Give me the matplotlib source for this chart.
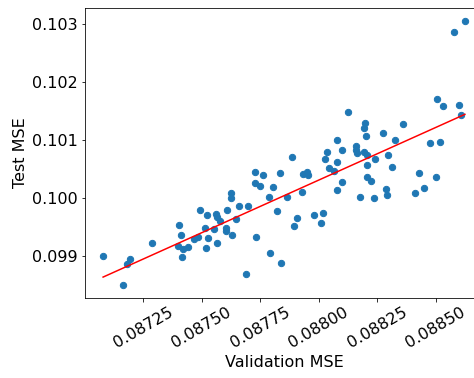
import numpy as np
import matplotlib
matplotlib.use("Agg")
from matplotlib import pyplot as plt

# validation / test MSE pairs
val_mse = [0.087079, 0.087165, 0.087183, 0.087196, 0.087290, 0.087403, 0.087414, 0.087398,
           0.087420, 0.087440, 0.087417, 0.087468, 0.087483, 0.087494, 0.087521, 0.087513,
           0.087526, 0.087519, 0.087563, 0.087564, 0.087580, 0.087552, 0.087566, 0.087603,
           0.087604, 0.087608, 0.087626, 0.087626, 0.087631, 0.087647, 0.087658, 0.087699,
           0.087690, 0.087727, 0.087726, 0.087734, 0.087751, 0.087764, 0.087787, 0.087803,
           0.087793, 0.087823, 0.087835, 0.087840, 0.087863, 0.087887, 0.087906, 0.087894,
           0.087934, 0.087950, 0.087954, 0.087931, 0.087981, 0.088017, 0.088012, 0.088029,
           0.088035, 0.088044, 0.088077, 0.088080, 0.088066, 0.088077, 0.088098, 0.088100,
           0.088124, 0.088197, 0.088194, 0.088202, 0.088159, 0.088160, 0.088162, 0.088193,
           0.088207, 0.088240, 0.088208, 0.088205, 0.088224, 0.088177, 0.088237, 0.088286,
           0.088290, 0.088275, 0.088297, 0.088314, 0.088328, 0.088362, 0.088427, 0.088410,
           0.088450, 0.088500, 0.088474, 0.088519, 0.088504, 0.088532, 0.088599, 0.088610,
           0.088579, 0.088625]
test_mse = [0.098993, 0.098499, 0.098866, 0.098947, 0.099213, 0.099532, 0.099363, 0.099176,
            0.099114, 0.099158, 0.098976, 0.099291, 0.099320, 0.099795, 0.099709, 0.099485,
            0.099308, 0.099141, 0.099726, 0.099661, 0.099606, 0.099463, 0.099225, 0.099477,
            0.099434, 0.099790, 0.100086, 0.099991, 0.099365, 0.099626, 0.099864, 0.099864,
            0.098683, 0.100449, 0.100251, 0.099320, 0.100207, 0.100389, 0.100009, 0.100186,
            0.099053, 0.099768, 0.100418, 0.098869, 0.100014, 0.100702, 0.099647, 0.099520,
            0.100406, 0.100435, 0.100396, 0.100091, 0.099704, 0.099744, 0.099570, 0.100663,
            0.100788, 0.100520, 0.100998, 0.100611, 0.100458, 0.100138, 0.100819, 0.100277,
            0.101477, 0.101284, 0.101201, 0.101069, 0.100897, 0.100831, 0.100771, 0.100793,
            0.100737, 0.100663, 0.100570, 0.100353, 0.100293, 0.100009, 0.099993, 0.100151,
            0.100048, 0.101121, 0.100733, 0.100535, 0.100990, 0.101275, 0.100418, 0.100088,
            0.100172, 0.100353, 0.100943, 0.100966, 0.101697, 0.101577, 0.101597, 0.101425,
            0.102859, 0.103043]

x = np.array(val_mse)
y = np.array(test_mse)

plt.rcParams["font.size"] = 16

fig = plt.figure(figsize=(474 / 72, 378 / 72), dpi=72)
# axes run past the right edge of the picture, as in the reference
ax = fig.add_axes([85 / 474, 1 - 298 / 378, 398 / 474, 290 / 378])

ax.scatter(x, y, s=40)

# least squares fit
m, b = np.polyfit(x, y, 1)
xs = np.sort(x)
ax.plot(xs, m * xs + b, color="red")

ax.set_xticks([0.08725, 0.0875, 0.08775, 0.088, 0.08825, 0.0885])
ax.set_xticklabels(["0.08725", "0.08750", "0.08775", "0.08800", "0.08825", "0.08850"], rotation=30)
ax.set_yticks([0.099, 0.100, 0.101, 0.102, 0.103])
ax.set_yticklabels(["0.099", "0.100", "0.101", "0.102", "0.103"])

ax.set_xlabel("Validation MSE")
ax.set_ylabel("Test MSE")

fig.savefig("out.png", dpi=72)
